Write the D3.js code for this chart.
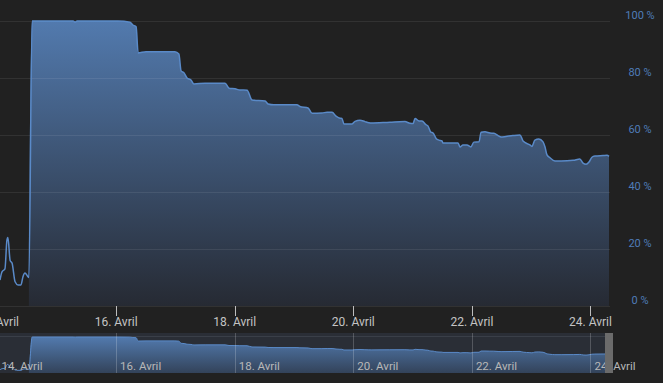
<!DOCTYPE html>
<html>
  <head>
    <meta charset="utf-8" />
    <script src="https://d3js.org/d3.v7.min.js"></script>
    <style>
      body { margin: 0; background: #212121; overflow: hidden; }
      text { font-family: Roboto, "Noto Sans", sans-serif; }
    </style>
  </head>
  <body>
    <svg id="chart" width="663" height="383"></svg>
    <script>
      // hours since 14 April 00:00, and the value (%) at that time
      const hours = [
        1.0, 1.8, 3.0, 3.8, 4.2, 5.1, 5.9, 7.1, 8.3, 9.5, 10.3, 11.1, 12.3, 12.7,
        14.0, 30.6, 31.4, 32.2, 48.8, 53.6, 54.8, 56.1, 56.9, 60.1, 71.8, 73.4,
        74.3, 75.5, 76.7, 78.3, 79.5, 84.0, 92.1, 93.7, 96.1, 98.1, 101.0, 103.0,
        108.3, 109.5, 111.9, 121.2, 122.4, 125.7, 127.3, 131.3, 133.4, 135.4,
        137.0, 138.6, 139.4, 140.2, 143.5, 144.7, 146.7, 148.7, 150.3, 151.2,
        158.8, 164.9, 166.9, 168.2, 169.0, 170.6, 171.8, 173.4, 174.2, 175.4,
        176.3, 177.5, 178.7, 179.9, 180.3, 186.4, 187.2, 188.4, 190.0, 191.6,
        192.8, 194.9, 195.7, 197.3, 199.3, 200.9, 202.6, 203.8, 205.8, 208.6,
        211.5, 212.7, 215.5, 216.3, 217.5, 219.1, 220.8, 221.6, 222.4, 223.6,
        225.6, 228.1, 233.0, 235.7, 237.0, 238.2, 239.4, 240.6, 241.8, 245.1,
        246.7, 247.5
      ];
      const values = [
        9.1, 12, 13, 23, 24, 16, 15, 8.5, 7.4, 7.4, 10.3, 11.6, 10.3, 10.0,
        100, 100, 99.6, 100, 100, 99.6, 98.6, 98, 88.8, 89.2, 89.2, 88.4,
        82.5, 81.8, 80, 79.3, 77.9, 78.2, 78.2, 76.4, 76.2, 75.8, 75.7, 72.3,
        71.9, 70.9, 70.6, 70.6, 70, 69.5, 67.6, 67.7, 68, 68,
        66.6, 65.9, 65.8, 63.9, 63.9, 64.8, 65.2, 64.7, 64.3, 64.2,
        64.5, 64.7, 64.1, 64, 65.8, 64.9, 64.9, 63.6, 63.2, 61,
        60.7, 58.8, 58.2, 57.9, 57.2, 57.2, 55.8, 56.5, 56.5, 55.8,
        57.5, 57.6, 61, 61.1, 60.7, 60.6, 59.8, 59.3, 59.5, 59.8,
        60, 57.9, 56.5, 56, 58.2, 58.6, 57.6, 55.8, 53, 52,
        50.9, 50.9, 51.1, 51.6, 50.1, 49.7, 50.5, 52.2, 52.6, 52.8,
        52.9, 52.5
      ];
      const areaStart = 13; // the fill begins at the jump
      const tickDays = [14, 16, 18, 20, 22, 24];
      const yTicks = [0, 20, 40, 60, 80, 100];
      const monthName = "Avril";

      const base = new Date(2023, 3, 14);
      const toDate = h => new Date(base.getTime() + h * 3600e3);
      const data = hours.map((h, i) => ({ date: toDate(h), value: values[i] }));

      const svg = d3.select("#chart");
      const plotW = 610;

      const x = d3.scaleTime()
        .domain([toDate(1.0), toDate(247.9)])
        .range([0, plotW]);
      const y = d3.scaleLinear().domain([0, 100]).range([306, 21]);
      const yNav = d3.scaleLinear().domain([0, 100]).range([373, 337]);

      // gradients
      const defs = svg.append("defs");
      const grad = defs.append("linearGradient")
        .attr("id", "fillGrad").attr("gradientUnits", "userSpaceOnUse")
        .attr("x1", 0).attr("x2", 0).attr("y1", y(100)).attr("y2", y(0));
      grad.append("stop").attr("offset", 0).attr("stop-color", "#527aae");
      grad.append("stop").attr("offset", 1).attr("stop-color", "#262a33");
      const navGrad = defs.append("linearGradient")
        .attr("id", "navGrad").attr("gradientUnits", "userSpaceOnUse")
        .attr("x1", 0).attr("x2", 0).attr("y1", yNav(100)).attr("y2", yNav(0));
      navGrad.append("stop").attr("offset", 0).attr("stop-color", "#527aae");
      navGrad.append("stop").attr("offset", 1).attr("stop-color", "#33435a");
      defs.append("clipPath").attr("id", "navClip")
        .append("rect").attr("x", 0).attr("y", 333).attr("width", 605).attr("height", 40);

      const curve = d3.curveMonotoneX;

      // main series
      const area = d3.area().curve(curve)
        .x(d => x(d.date)).y0(y(0)).y1(d => y(d.value));
      const line = d3.line().curve(curve)
        .x(d => x(d.date)).y(d => y(d.value));

      svg.append("path")
        .datum(data.slice(areaStart))
        .attr("d", area)
        .attr("fill", "url(#fillGrad)");

      // horizontal grid
      svg.append("g")
        .selectAll("line")
        .data(yTicks)
        .join("line")
        .attr("x1", 0).attr("x2", plotW)
        .attr("y1", d => y(d) + 0.5).attr("y2", d => y(d) + 0.5)
        .attr("stroke", "rgba(255,255,255,0.08)");

      svg.append("path")
        .datum(data)
        .attr("d", line)
        .attr("fill", "none")
        .attr("stroke", "#5a8ac8")
        .attr("stroke-width", 1.5);

      // y labels (right side)
      svg.append("g")
        .selectAll("text")
        .data(yTicks)
        .join("text")
        .attr("x", 640).attr("y", d => y(d) - 2)
        .attr("text-anchor", "middle")
        .attr("font-size", 11)
        .attr("fill", "#4f7cb8")
        .text(d => d + " %");

      // x axis
      const tickDates = tickDays.map(d => new Date(2023, 3, d));
      const xAxis = svg.append("g");
      xAxis.selectAll("line")
        .data(tickDates)
        .join("line")
        .attr("x1", d => Math.round(x(d)) + 0.5).attr("x2", d => Math.round(x(d)) + 0.5)
        .attr("y1", 306).attr("y2", 316)
        .attr("stroke", "#bdbdbd");
      xAxis.selectAll("text")
        .data(tickDates)
        .join("text")
        .attr("x", d => x(d)).attr("y", 326)
        .attr("text-anchor", "middle")
        .attr("font-size", 12)
        .attr("fill", "#c4c4c4")
        .text(d => d.getDate() + ". " + monthName);

      // navigator
      const nav = svg.append("g");
      nav.append("rect")
        .attr("x", 0).attr("y", 333).attr("width", 605).attr("height", 40)
        .attr("fill", "#2a2e36");
      nav.append("line")
        .attr("x1", 0).attr("x2", 605).attr("y1", 336.5).attr("y2", 336.5)
        .attr("stroke", "#3a3f48");

      const navArea = d3.area().curve(curve)
        .x(d => x(d.date)).y0(yNav(0)).y1(d => yNav(d.value));
      const navLine = d3.line().curve(curve)
        .x(d => x(d.date)).y(d => yNav(d.value));
      const navInner = nav.append("g").attr("clip-path", "url(#navClip)");
      navInner.append("path")
        .datum(data.slice(areaStart))
        .attr("d", navArea)
        .attr("fill", "url(#navGrad)");
      navInner.append("path")
        .datum(data)
        .attr("d", navLine)
        .attr("fill", "none")
        .attr("stroke", "#5a8ac8")
        .attr("stroke-width", 1);

      nav.selectAll(".navgrid")
        .data(tickDates)
        .join("line")
        .attr("class", "navgrid")
        .attr("x1", d => Math.round(x(d)) + 0.5).attr("x2", d => Math.round(x(d)) + 0.5)
        .attr("y1", 333).attr("y2", 373)
        .attr("stroke", "rgba(255,255,255,0.2)");
      nav.selectAll(".navlabel")
        .data(tickDates)
        .join("text")
        .attr("class", "navlabel")
        .attr("x", d => x(d) + 4).attr("y", 370)
        .attr("font-size", 11.5)
        .attr("fill", "#b8b8b8")
        .text(d => d.getDate() + ". " + monthName);

      // right handle
      nav.append("rect")
        .attr("x", 605).attr("y", 333).attr("width", 8).attr("height", 40)
        .attr("fill", "#6b6b6b");
    </script>
  </body>
</html>
